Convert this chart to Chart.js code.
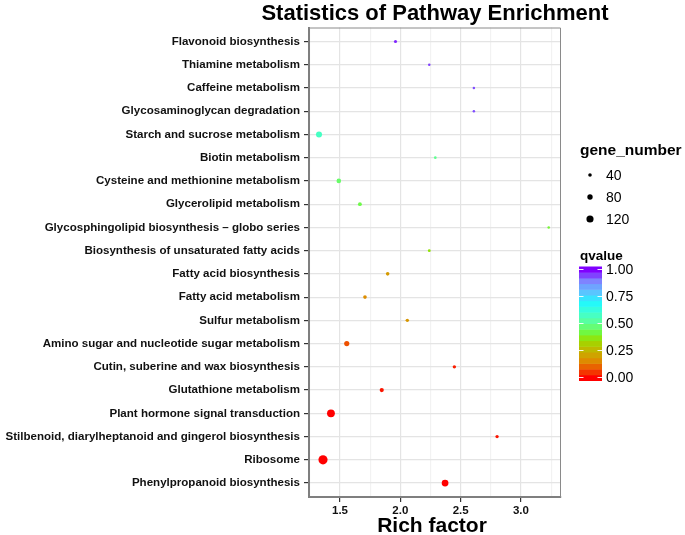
<!DOCTYPE html>
<html><head><meta charset="utf-8">
<script src="https://cdn.jsdelivr.net/npm/chart.js@4/dist/chart.umd.min.js"></script>
<style>html,body{margin:0;padding:0;background:#fff}#wrap{width:685px;height:535px;position:relative}</style>
</head><body><div id="wrap"><canvas id="c" width="685" height="535"></canvas></div>
<script>
const pathways = [
  "Flavonoid biosynthesis",
  "Thiamine metabolism",
  "Caffeine metabolism",
  "Glycosaminoglycan degradation",
  "Starch and sucrose metabolism",
  "Biotin metabolism",
  "Cysteine and methionine metabolism",
  "Glycerolipid metabolism",
  "Glycosphingolipid biosynthesis \u2013 globo series",
  "Biosynthesis of unsaturated fatty acids",
  "Fatty acid biosynthesis",
  "Fatty acid metabolism",
  "Sulfur metabolism",
  "Amino sugar and nucleotide sugar metabolism",
  "Cutin, suberine and wax biosynthesis",
  "Glutathione metabolism",
  "Plant hormone signal transduction",
  "Stilbenoid, diarylheptanoid and gingerol biosynthesis",
  "Ribosome",
  "Phenylpropanoid biosynthesis"
];
const richFactor = [1.96, 2.24, 2.61, 2.61, 1.326, 2.29, 1.49, 1.665, 3.23, 2.24,
                    1.895, 1.707, 2.058, 1.556, 2.448, 1.846, 1.425, 2.802, 1.359, 2.371];
const geneNumber = [30, 16, 16, 16, 96, 20, 62, 46, 16, 24,
                    40, 42, 36, 76, 36, 54, 136, 34, 165, 112];
const qvalue = [0.97, 0.95, 0.94, 0.94, 0.58, 0.5, 0.46, 0.43, 0.41, 0.36,
                0.19, 0.16, 0.18, 0.08, 0.03, 0.02, 0.0, 0.02, 0.0, 0.0];
const xTickValues = [1.5, 2.0, 2.5, 3.0];
const xMinorValues = [1.25, 1.75, 2.25, 2.75, 3.25];
const sizeBreaks = [40, 80, 120];
const qBreaks = [0, 0.25, 0.5, 0.75, 1.0];

const FONT = '"Liberation Sans", Arial, Helvetica, sans-serif';
const stops = [
  [0.00, [255, 0, 0]], [0.07, [240, 72, 0]], [0.15, [224, 136, 0]], [0.22, [204, 168, 0]],
  [0.28, [184, 192, 0]], [0.35, [152, 224, 0]], [0.42, [112, 248, 64]], [0.50, [96, 255, 144]],
  [0.60, [64, 255, 208]], [0.70, [32, 248, 255]], [0.80, [96, 192, 255]], [0.90, [128, 128, 255]],
  [1.00, [128, 0, 255]]
];
function qColor(q) {
  for (let i = 1; i < stops.length; i++) {
    if (q <= stops[i][0]) {
      const [a, ca] = stops[i - 1], [b, cb] = stops[i];
      const t = (q - a) / (b - a);
      const c = ca.map((v, k) => Math.round(v + (cb[k] - v) * t));
      return `rgb(${c[0]},${c[1]},${c[2]})`;
    }
  }
  return 'rgb(128,0,255)';
}
function radius(n) { return 0.9 + n / 45; }

const points = pathways.map((p, i) => ({ x: richFactor[i], y: i, r: radius(geneNumber[i]) }));
const colors = qvalue.map(qColor);

const extras = {
  id: 'extras',
  afterDraw(chart) {
    const ctx = chart.ctx, a = chart.chartArea;
    ctx.save();
    ctx.strokeStyle = '#8a8a8a'; ctx.lineWidth = 1;
    ctx.beginPath();
    ctx.moveTo(a.left, a.top + 0.5); ctx.lineTo(a.right - 0.5, a.top + 0.5); ctx.lineTo(a.right - 0.5, a.bottom);
    ctx.stroke();
    const cx = (a.left + a.right) / 2;
    ctx.fillStyle = '#000';
    ctx.textAlign = 'center'; ctx.textBaseline = 'alphabetic';
    ctx.font = 'bold 22px ' + FONT;
    ctx.fillText('Statistics of Pathway Enrichment', cx, 20);
    ctx.font = 'bold 21px ' + FONT;
    ctx.fillText('Rich factor', cx - 3, 532);
    ctx.textAlign = 'left';
    ctx.font = 'bold 15.5px ' + FONT;
    ctx.fillText('gene_number', 580, 155);
    const ys = [175, 197, 219];
    ctx.font = '14px ' + FONT;
    ctx.textBaseline = 'middle';
    sizeBreaks.forEach((v, i) => {
      ctx.beginPath(); ctx.arc(590, ys[i], radius(v), 0, Math.PI * 2); ctx.fillStyle = '#000'; ctx.fill();
      ctx.fillText(String(v), 606, ys[i] + 1);
    });
    ctx.textBaseline = 'alphabetic';
    ctx.font = 'bold 13.5px ' + FONT;
    ctx.fillText('qvalue', 580, 260);
    const bx = 579, bw = 23, bt = 266.5, bb = 380.5, q0 = 377.5, q1 = 269.5;
    const nb = 20;
    for (let k = 0; k < nb; k++) {
      const y0 = bb - (bb - bt) * k / nb, y1 = bb - (bb - bt) * (k + 1) / nb;
      const qm = ((y0 + y1) / 2 - q0) / (q1 - q0);
      ctx.fillStyle = qColor(Math.max(0, Math.min(1, qm)));
      ctx.fillRect(bx, y1, bw, y0 - y1 + 0.5);
    }
    ctx.strokeStyle = 'rgba(255,255,255,0.9)'; ctx.lineWidth = 1;
    ctx.font = '14px ' + FONT; ctx.fillStyle = '#000'; ctx.textBaseline = 'middle';
    qBreaks.forEach(q => {
      const y = q0 + (q1 - q0) * q;
      ctx.beginPath();
      ctx.moveTo(bx, y); ctx.lineTo(bx + 4.5, y);
      ctx.moveTo(bx + bw - 4.5, y); ctx.lineTo(bx + bw, y);
      ctx.stroke();
      ctx.fillText(q.toFixed(2), 606, y + 1);
    });
    ctx.restore();
  }
};

new Chart(document.getElementById('c'), {
  type: 'bubble',
  data: { datasets: [{ data: points, backgroundColor: colors, borderWidth: 0, hoverBorderWidth: 0 }] },
  options: {
    responsive: false, animation: false, devicePixelRatio: 1,
    layout: { padding: { top: 27.5, right: 124, left: 0, bottom: 0 } },
    plugins: { legend: { display: false }, tooltip: { enabled: false }, title: { display: false } },
    scales: {
      x: {
        type: 'linear', min: 1.243, max: 3.332,
        afterBuildTicks: s => { s.ticks = xMinorValues.concat(xTickValues).sort((a, b) => a - b).map(v => ({ value: v })); },
        afterFit: s => { s.height = 38; },
        ticks: {
          autoSkip: false, maxRotation: 0, padding: 2, color: '#111',
          font: { family: FONT, size: 11.5, weight: 'bold' },
          callback: v => xTickValues.includes(v) ? v.toFixed(1) : ''
        },
        grid: {
          color: c => (c.tick && xTickValues.includes(c.tick.value)) ? '#e4e4e4' : '#f2f2f2',
          lineWidth: 1.2, tickLength: 5,
          tickColor: c => (c.tick && xTickValues.includes(c.tick.value)) ? '#333' : 'rgba(0,0,0,0)'
        },
        border: { display: true, color: '#7f7f7f', width: 2 }
      },
      y: {
        type: 'linear', min: -0.6, max: 19.6, reverse: true,
        afterBuildTicks: s => { s.ticks = pathways.map((p, i) => ({ value: i })); },
        afterFit: s => { s.width = 309; },
        ticks: {
          autoSkip: false, padding: 4, color: '#111',
          font: { family: FONT, size: 11.55, weight: 'bold' },
          callback: v => pathways[v]
        },
        grid: { color: '#e4e4e4', lineWidth: 1.2, tickLength: 5, tickColor: '#333' },
        border: { display: true, color: '#7f7f7f', width: 2 }
      }
    }
  },
  plugins: [extras]
});
</script></body></html>
